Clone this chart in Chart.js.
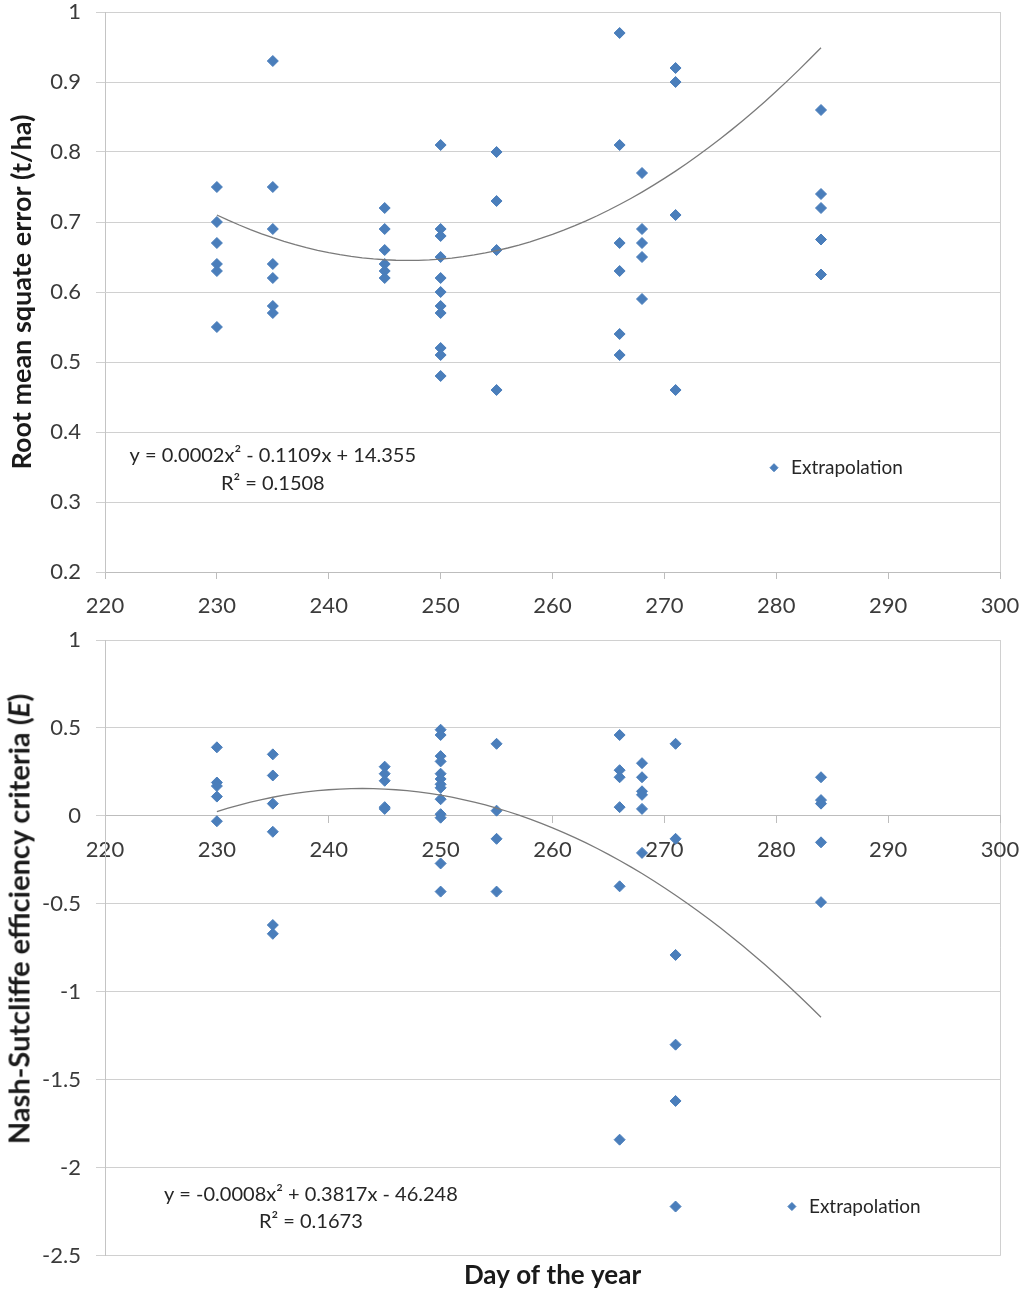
<!DOCTYPE html>
<html>
<head>
<meta charset="utf-8">
<script src="https://cdn.jsdelivr.net/npm/chart.js@4.4.1/dist/chart.umd.min.js"></script>
<style>
  html, body { margin: 0; padding: 0; background: #fff; }
  #wrap { position: relative; width: 1024px; height: 1295px; overflow: hidden; background: #fff; }
  .box { position: absolute; left: 0; width: 1024px; }
  #nseTitle {
    position: absolute; left: 18px; top: 919px;
    transform: translate(-50%, -50%) rotate(-90deg);
    font-family: Lato, "Open Sans", sans-serif; font-weight: bold; font-size: 29px;
    color: #1a1a1a; white-space: nowrap;
  }
</style>
</head>
<body>
<div id="wrap">
  <div class="box" style="top:0;height:625px"><canvas id="rmseChart" width="1024" height="625"></canvas></div>
  <div class="box" style="top:625px;height:670px"><canvas id="nseChart" width="1024" height="670"></canvas></div>
  <div id="nseTitle">Nash-Sutcliffe efficiency criteria (<i>E</i>)</div>
</div>
<script>
// values
var rmseDays = [
  230, 230, 230, 230, 230, 230,
  235, 235, 235, 235, 235, 235, 235,
  245, 245, 245, 245, 245, 245,
  250, 250, 250, 250, 250, 250, 250, 250, 250, 250, 250,
  255, 255, 255, 255,
  266, 266, 266, 266, 266, 266,
  268, 268, 268, 268, 268,
  271, 271, 271, 271,
  284, 284, 284, 284, 284
];
var rmseValues = [
  0.75, 0.70, 0.67, 0.64, 0.63, 0.55,
  0.93, 0.75, 0.69, 0.64, 0.62, 0.58, 0.57,
  0.72, 0.69, 0.66, 0.64, 0.63, 0.62,
  0.81, 0.69, 0.68, 0.65, 0.62, 0.60, 0.58, 0.57, 0.52, 0.51, 0.48,
  0.80, 0.73, 0.66, 0.46,
  0.97, 0.81, 0.67, 0.63, 0.54, 0.51,
  0.77, 0.69, 0.67, 0.65, 0.59,
  0.92, 0.90, 0.71, 0.46,
  0.86, 0.74, 0.72, 0.675, 0.625
];

var nseDays = [
  230, 230, 230, 230, 230,
  235, 235, 235, 235, 235, 235,
  245, 245, 245, 245, 245,
  250, 250, 250, 250, 250, 250, 250, 250, 250, 250, 250, 250, 250,
  255, 255, 255, 255,
  266, 266, 266, 266, 266, 266,
  268, 268, 268, 268, 268, 268,
  271, 271, 271, 271, 271, 271,
  284, 284, 284, 284, 284
];
var nseValues = [
  0.39, 0.19, 0.17, 0.11, -0.03,
  0.35, 0.23, 0.07, -0.09, -0.62, -0.67,
  0.28, 0.24, 0.20, 0.05, 0.04,
  0.49, 0.46, 0.34, 0.31, 0.24, 0.21, 0.18, 0.16, 0.095, 0.01, -0.01, -0.27, -0.43,
  0.41, 0.03, -0.13, -0.43,
  0.46, 0.26, 0.22, 0.05, -0.40, -1.84,
  0.30, 0.22, 0.14, 0.12, 0.04, -0.21,
  0.41, -0.13, -0.79, -1.30, -1.62, -2.22,
  0.22, 0.09, 0.07, -0.15, -0.49
];

// the polynomial trendlines at three days
var trendDays = [230, 250, 284];
var rmseTrend = [0.710, 0.647, 0.949];
var nseTrend = [0.025, 0.118, -1.144];

var dayRange = [220, 300];
var dayStep = 10;
var rmseRange = [0.2, 1];
var rmseStep = 0.1;
var nseRange = [-2.5, 1];
var nseStep = 0.5;

var seriesLabel = 'Extrapolation';
var rmseEquation = ['y = 0.0002x\u00B2 - 0.1109x + 14.355', 'R\u00B2 = 0.1508'];
var nseEquation = ['y = -0.0008x\u00B2 + 0.3817x - 46.248', 'R\u00B2 = 0.1673'];

var FONT = 'Lato, "Open Sans", sans-serif';
var BLUE = '#4a7ebb';
var GRID = '#d0d0d0';
var TICKTEXT = '#3b3b3b';

Chart.defaults.font.family = FONT;

// second order curve through the three read points (the excel poly trendline)
function trendPoints(xs, ys) {
  var x0 = xs[0], x1 = xs[1], x2 = xs[2];
  function f(x) {
    return ys[0] * (x - x1) * (x - x2) / ((x0 - x1) * (x0 - x2)) +
           ys[1] * (x - x0) * (x - x2) / ((x1 - x0) * (x1 - x2)) +
           ys[2] * (x - x0) * (x - x1) / ((x2 - x0) * (x2 - x1));
  }
  var pts = [];
  for (var x = x0; x <= x2; x++) pts.push({ x: x, y: f(x) });
  return pts;
}

function toPoints(xs, ys) {
  return xs.map(function (x, i) { return { x: x, y: ys[i] }; });
}

// keep the plot area where layout.padding puts it
function noLabelPadding(s) {
  s.paddingTop = 0;
  s.paddingBottom = 0;
  s.paddingLeft = 0;
  s.paddingRight = 0;
}

// equation text and the little legend, placed in data units
var notesPlugin = {
  id: 'notes',
  afterDatasetsDraw: function (chart, args, o) {
    if (!o || !o.equation) return;
    var ctx = chart.ctx, sx = chart.scales.x, sy = chart.scales.y;
    ctx.save();
    ctx.fillStyle = '#262626';
    ctx.font = '20px ' + FONT;
    ctx.textAlign = 'center';
    ctx.textBaseline = 'middle';
    o.equation.forEach(function (line, i) {
      ctx.fillText(line, sx.getPixelForValue(o.eqX), sy.getPixelForValue(o.eqY[i]));
    });
    var lx = sx.getPixelForValue(o.legendX), ly = sy.getPixelForValue(o.legendY);
    ctx.fillStyle = BLUE;
    ctx.strokeStyle = BLUE;
    Chart.helpers.drawPoint(ctx, { pointStyle: 'rectRot', radius: 4, borderWidth: 1 }, lx, ly);
    ctx.fillStyle = '#262626';
    ctx.textAlign = 'left';
    ctx.font = '19px ' + FONT;
    ctx.fillText(o.label, lx + 17, ly);
    ctx.restore();
  }
};

function makeChart(id, days, values, trend, yRange, yStep, xPos, extra) {
  var opts = {
    responsive: false,
    animation: false,
    events: [],
    layout: { padding: extra.padding },
    plugins: {
      legend: { display: false },
      tooltip: { enabled: false },
      title: extra.title || { display: false },
      notes: extra.notes
    },
    scales: {
      x: {
        type: 'linear',
        position: xPos,
        min: dayRange[0],
        max: dayRange[1],
        ticks: { stepSize: dayStep, color: TICKTEXT, font: { size: 22 }, padding: 14 },
        grid: {
          color: function (c) { return c.tick && c.tick.value === dayRange[1] ? GRID : 'rgba(0,0,0,0)'; },
          tickColor: '#bdbdbd',
          tickLength: 7
        },
        border: { display: true, color: '#bdbdbd' },
        afterFit: function (s) {
          noLabelPadding(s);
          if (xPos === 'bottom') s.height = 53;
        }
      },
      y: {
        type: 'linear',
        min: yRange[0],
        max: yRange[1],
        ticks: {
          stepSize: yStep, color: TICKTEXT, font: { size: 22 }, padding: 15,
          callback: function (v) { return Math.round(v * 10) / 10; }
        },
        grid: { color: GRID, tickColor: GRID, tickLength: 9 },
        border: { display: true, color: '#c4c4c4' },
        title: extra.yTitle || { display: false },
        afterFit: function (s) {
          noLabelPadding(s);
          s.width = 105;
        }
      }
    }
  };
  return new Chart(document.getElementById(id), {
    type: 'scatter',
    data: {
      datasets: [
        {
          type: 'line',
          label: 'Poly. (' + seriesLabel + ')',
          data: trendPoints(trendDays, trend),
          borderColor: '#7a7a7a',
          borderWidth: 1.3,
          pointRadius: 0,
          fill: false,
          tension: 0
        },
        {
          label: seriesLabel,
          data: toPoints(days, values),
          pointStyle: 'rectRot',
          pointRadius: 5.5,
          backgroundColor: BLUE,
          borderColor: BLUE,
          borderWidth: 1
        }
      ]
    },
    options: opts,
    plugins: [notesPlugin]
  });
}

makeChart('rmseChart', rmseDays, rmseValues, rmseTrend, rmseRange, rmseStep, 'bottom', {
  padding: { top: 12, right: 24, bottom: 0, left: 0 },
  yTitle: {
    display: true,
    text: 'Root mean squate error (t/ha)',
    color: '#1a1a1a',
    font: { size: 27, weight: 'bold' },
    padding: { top: 6, bottom: 0 }
  },
  notes: { equation: rmseEquation, eqX: 235, eqY: [0.366, 0.326], legendX: 279.8, legendY: 0.349, label: seriesLabel }
});

makeChart('nseChart', nseDays, nseValues, nseTrend, nseRange, nseStep, { y: 0 }, {
  padding: { top: 15, right: 24, bottom: 0, left: 0 },
  title: {
    display: true,
    position: 'bottom',
    fullSize: false,
    text: 'Day of the year',
    color: '#1a1a1a',
    font: { size: 26, weight: 'bold' },
    padding: { top: 4, bottom: 4 }
  },
  notes: { equation: nseEquation, eqX: 238.4, eqY: [-2.153, -2.307], legendX: 281.4, legendY: -2.22, label: seriesLabel }
});
</script>
</body>
</html>
